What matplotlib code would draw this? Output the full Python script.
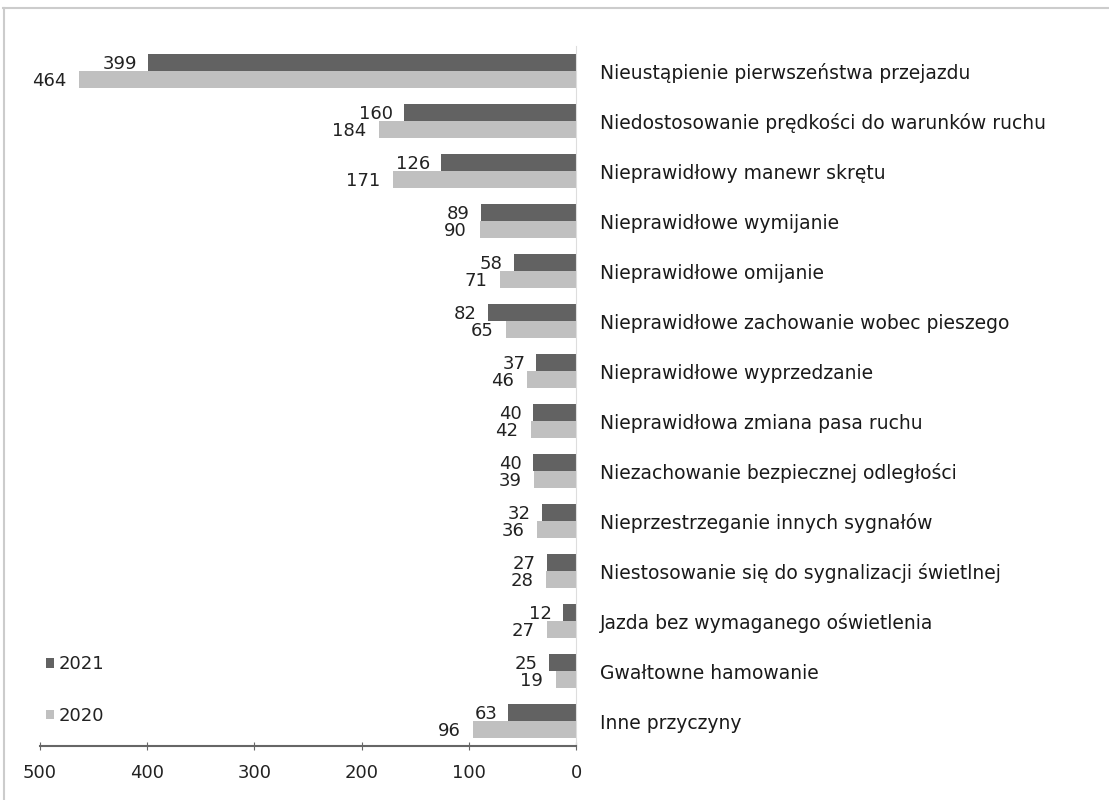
import matplotlib
matplotlib.use("Agg")
import matplotlib.pyplot as plt
from matplotlib.lines import Line2D
import numpy as np

categories = [
    "Nieustąpienie pierwszeństwa przejazdu",
    "Niedostosowanie prędkości do warunków ruchu",
    "Nieprawidłowy manewr skrętu",
    "Nieprawidłowe wymijanie",
    "Nieprawidłowe omijanie",
    "Nieprawidłowe zachowanie wobec pieszego",
    "Nieprawidłowe wyprzedzanie",
    "Nieprawidłowa zmiana pasa ruchu",
    "Niezachowanie bezpiecznej odległości",
    "Nieprzestrzeganie innych sygnałów",
    "Niestosowanie się do sygnalizacji świetlnej",
    "Jazda bez wymaganego oświetlenia",
    "Gwałtowne hamowanie",
    "Inne przyczyny",
]
values_2021 = [399, 160, 126, 89, 58, 82, 37, 40, 40, 32, 27, 12, 25, 63]
values_2020 = [464, 184, 171, 90, 71, 65, 46, 42, 39, 36, 28, 27, 19, 96]
xticks = [0, 100, 200, 300, 400, 500]

c21 = "#626262"
c20 = "#c0c0c0"

plt.rcParams['font.family'] = ['DejaVu Sans']
fig = plt.figure(figsize=(11.09, 8), dpi=100)
ax = fig.add_axes([40/1109, 54/800, 536/1109, 700/800])

y = np.arange(len(categories))
h = 0.34
b21 = ax.barh(y - h/2, values_2021, height=h, color=c21, label="2021")
b20 = ax.barh(y + h/2, values_2020, height=h, color=c20, label="2020")

ax.set_xlim(500, 0)
ax.set_ylim(len(categories) - 0.5, -0.5)

for yi, v in zip(y, values_2021):
    ax.annotate(str(v), (v, yi - h/2), xytext=(-8, -1), textcoords="offset points",
                ha="right", va="center", fontsize=13, color="#222222")
for yi, v in zip(y, values_2020):
    ax.annotate(str(v), (v, yi + h/2), xytext=(-9, -1), textcoords="offset points",
                ha="right", va="center", fontsize=13, color="#222222")

# category labels on right
ax.set_yticks(y)
ax.set_yticklabels(categories, fontsize=13.5, color="#1a1a1a")
ax.yaxis.tick_right()
ax.tick_params(axis="y", length=0, pad=17)

ax.set_xticks(xticks)
ax.set_xticklabels([str(t) for t in xticks], fontsize=13, color="#222222")
ax.tick_params(axis="x", direction="inout", length=6, color="#666666", pad=10)

for s in ["top", "left"]:
    ax.spines[s].set_visible(False)
ax.spines["right"].set_color("#dddddd")
ax.spines["bottom"].set_color("#666666")
ax.spines["bottom"].set_linewidth(1.5)

leg = ax.legend(handles=[b21, b20], loc="upper left", bbox_to_anchor=(-0.02, 0.153),
                frameon=False, fontsize=13, labelspacing=1.87, handlelength=0.45,
                handleheight=0.45, handletextpad=0.25, labelcolor="#222222")

# outer frame (top and left edges)
fig.add_artist(Line2D([3/1109, 1], [1 - 8/800, 1 - 8/800], color="#cccccc", lw=1.5,
                      transform=fig.transFigure))
fig.add_artist(Line2D([4/1109, 4/1109], [0, 1 - 8/800], color="#cccccc", lw=1.5,
                      transform=fig.transFigure))

fig.savefig("out.png", dpi=100, facecolor="white")
